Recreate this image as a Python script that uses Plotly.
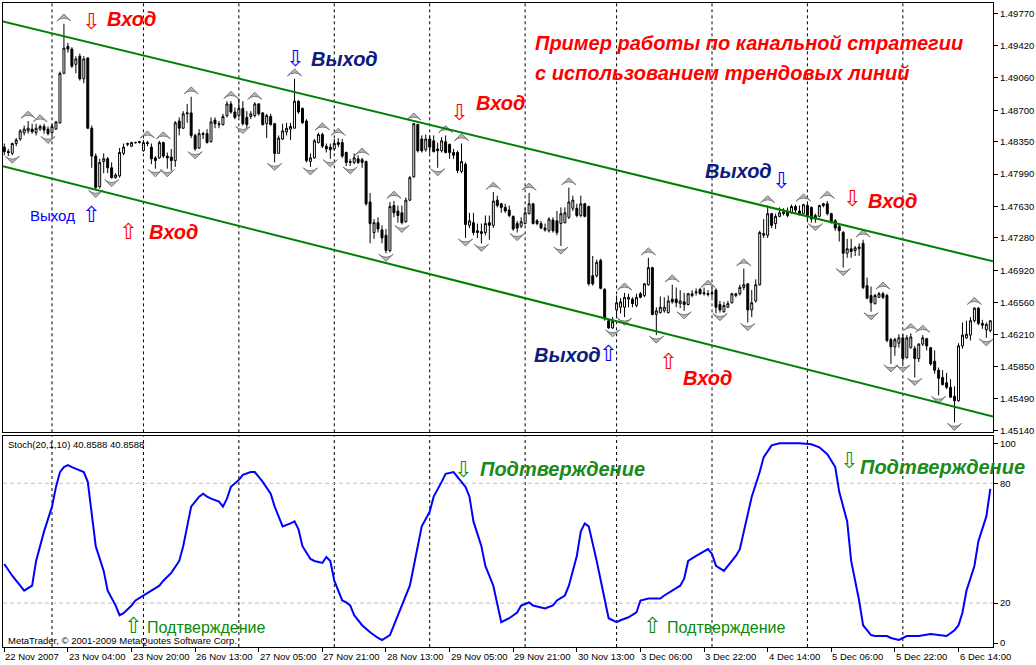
import plotly.graph_objects as go

# ---------------- DATA (EURUSD H1, prices in points = price*10000) ----------------
open_pts = [14829,14824,14822,14833,14838,14845,14847,14849,14845,14849,
14852,14849,14845,14849,14856,14911,14941,14938,14921,14930,
14905,14928,14850,14819,14785,14813,14816,14806,14795,14797,
14822,14832,14830,14834,14834,14825,14834,14829,14817,14817,
14834,14819,14818,14814,14858,14850,14866,14867,14842,14828,
14844,14844,14835,14859,14855,14854,14864,14877,14868,14864,
14872,14862,14863,14864,14877,14867,14855,14863,14855,14822,
14838,14846,14849,14850,14880,14872,14858,14813,14817,14834,
14843,14830,14829,14827,14834,14834,14823,14813,14812,14816,
14815,14813,14768,14734,14745,14737,14731,14714,14764,14758,
14756,14746,14770,14796,14854,14838,14826,14838,14836,14827,
14825,14835,14832,14823,14823,14802,14810,14742,14745,14736,
14735,14734,14745,14742,14770,14766,14762,14759,14752,14744,
14741,14744,14755,14766,14747,14744,14739,14736,14748,14747,
14744,14745,14751,14761,14761,14753,14766,14763,14686,14686,
14703,14671,14636,14628,14648,14651,14651,14660,14660,14653,
14666,14664,14676,14695,14643,14645,14647,14645,14660,14660,
14655,14657,14654,14664,14667,14671,14666,14665,14666,14670,
14654,14646,14651,14656,14664,14666,14673,14677,14648,14658,
14676,14731,14731,14755,14744,14752,14755,14758,14756,14763,
14758,14755,14764,14762,14753,14752,14766,14766,14755,14747,
14741,14734,14711,14716,14714,14716,14722,14675,14664,14655,
14662,14666,14664,14615,14607,14611,14617,14595,14606,14605,
14594,14610,14616,14606,14591,14581,14573,14567,14562,14552,
14547,14608,14617,14620,14636,14650,14633,14626,14625]

high_pts = [14833,14827,14834,14839,14849,14853,14858,14855,14855,14854,
14855,14852,14855,14858,14913,14966,14945,14940,14930,14933,
14930,14929,14853,14822,14816,14822,14818,14812,14800,14828,
14833,14834,14835,14835,14836,14837,14836,14833,14819,14836,
14835,14823,14827,14858,14862,14869,14877,14885,14844,14849,
14846,14849,14862,14862,14858,14866,14880,14880,14873,14883,
14880,14869,14869,14879,14878,14868,14866,14866,14856,14842,
14855,14856,14856,14905,14881,14873,14860,14822,14838,14845,
14845,14833,14833,14838,14839,14838,14824,14816,14822,14820,
14817,14814,14778,14749,14751,14742,14738,14768,14769,14764,
14764,14773,14797,14856,14855,14842,14843,14842,14842,14834,
14840,14842,14833,14827,14825,14833,14812,14756,14756,14744,
14744,14753,14753,14779,14775,14767,14766,14764,14753,14747,
14751,14762,14778,14767,14749,14747,14744,14751,14751,14758,
14762,14762,14784,14775,14766,14775,14767,14764,14708,14704,
14705,14672,14638,14640,14664,14661,14667,14666,14662,14666,
14668,14678,14706,14696,14651,14663,14662,14664,14676,14673,
14670,14667,14667,14670,14672,14672,14673,14670,14673,14672,
14658,14657,14658,14667,14667,14676,14694,14678,14670,14682,
14736,14749,14764,14756,14755,14762,14761,14762,14765,14765,
14764,14766,14766,14763,14755,14765,14767,14769,14756,14749,
14744,14736,14727,14727,14719,14722,14726,14684,14674,14666,
14668,14668,14666,14617,14617,14621,14621,14620,14622,14608,
14611,14620,14617,14607,14603,14584,14581,14578,14571,14563,
14611,14634,14636,14640,14651,14651,14637,14634,14636]

low_pts = [14820,14819,14820,14830,14836,14842,14844,14844,14842,14847,
14844,14842,14842,14848,14855,14910,14934,14917,14911,14903,
14900,14849,14806,14782,14783,14800,14800,14794,14794,14795,
14820,14830,14829,14833,14833,14824,14830,14810,14805,14816,
14817,14805,14803,14807,14842,14849,14856,14839,14825,14827,
14838,14833,14834,14850,14850,14853,14862,14866,14860,14862,
14853,14850,14860,14862,14864,14853,14839,14853,14812,14822,
14837,14842,14837,14850,14866,14855,14812,14807,14816,14833,
14828,14823,14816,14825,14829,14817,14808,14808,14810,14810,
14806,14764,14722,14727,14734,14722,14711,14712,14751,14745,
14743,14745,14769,14795,14823,14823,14824,14822,14823,14806,
14823,14822,14816,14816,14800,14800,14728,14739,14731,14728,
14722,14731,14726,14739,14762,14756,14756,14751,14736,14734,
14739,14743,14754,14743,14742,14738,14735,14734,14734,14731,
14719,14744,14749,14758,14751,14751,14751,14675,14675,14684,
14671,14636,14627,14627,14640,14644,14640,14651,14651,14651,
14661,14662,14675,14642,14620,14644,14645,14644,14655,14651,
14650,14647,14653,14662,14664,14665,14664,14663,14662,14644,
14645,14645,14650,14655,14662,14664,14670,14634,14640,14656,
14675,14728,14728,14739,14738,14751,14753,14751,14755,14756,
14753,14755,14748,14745,14745,14751,14762,14753,14744,14736,
14724,14695,14706,14706,14708,14708,14671,14660,14646,14654,
14662,14660,14612,14588,14597,14606,14588,14594,14605,14573,
14590,14608,14603,14586,14577,14553,14564,14560,14550,14523,
14546,14605,14616,14614,14634,14631,14627,14617,14623]

close_pts = [14824,14823,14833,14837,14847,14849,14850,14846,14850,14852,
14848,14844,14852,14857,14911,14939,14938,14919,14927,14905,
14927,14850,14819,14784,14812,14816,14806,14795,14798,14823,
14829,14833,14834,14834,14835,14834,14833,14816,14814,14834,
14819,14817,14814,14856,14850,14866,14867,14842,14827,14844,
14843,14834,14857,14855,14854,14863,14877,14868,14862,14872,
14855,14854,14866,14877,14866,14854,14864,14854,14822,14839,
14847,14850,14852,14880,14868,14856,14814,14817,14836,14843,
14830,14827,14826,14833,14832,14819,14812,14812,14817,14812,
14812,14766,14744,14745,14738,14728,14714,14763,14756,14753,
14745,14770,14795,14855,14825,14825,14838,14829,14824,14825,
14836,14823,14823,14820,14803,14813,14743,14747,14734,14734,
14733,14744,14742,14769,14764,14762,14758,14753,14738,14739,
14746,14756,14766,14744,14744,14739,14737,14749,14736,14734,
14755,14756,14768,14770,14753,14766,14752,14677,14677,14701,
14672,14638,14628,14635,14656,14657,14662,14662,14655,14662,
14662,14677,14695,14643,14647,14651,14651,14658,14657,14656,
14658,14654,14666,14666,14668,14666,14667,14666,14667,14651,
14648,14653,14655,14666,14666,14673,14676,14648,14656,14676,
14734,14733,14755,14742,14752,14756,14757,14753,14763,14759,
14755,14765,14753,14749,14749,14764,14764,14755,14746,14739,
14736,14711,14716,14713,14717,14718,14673,14661,14656,14664,
14666,14662,14614,14607,14615,14617,14594,14617,14618,14594,
14610,14617,14608,14588,14581,14572,14565,14562,14551,14547,
14608,14620,14621,14636,14650,14633,14631,14632,14636]

# Bill Williams fractals seen on the chart (bar indices)
fractal_up_bars = [6, 9, 15, 36, 40, 47, 57, 63, 73, 80, 84, 90, 98, 103, 111, 115, 123,
                   132, 142, 156, 162, 168, 177, 186, 192, 201, 207, 216, 221, 228, 231, 244]
fractal_down_bars = [2, 11, 23, 27, 38, 41, 48, 60, 68, 77, 82, 87, 96, 100, 109, 116, 120,
                     129, 140, 153, 156, 164, 171, 180, 187, 204, 211, 218, 223, 226, 229,
                     235, 239, 247]

# Stochastic(20,1,10) line read from the lower window
stoch_bars = [0,2,4,5,7,8,10,12,13,14,15,16,17,19,20,21,22,23,25,26,28,29,30,32,33,35,37,39,40,42,
              44,45,46,47,49,50,51,52,54,55,56,57,59,60,62,63,64,65,67,68,69,70,72,73,74,75,77,78,80,81,
              82,83,85,86,87,88,90,92,94,95,97,98,99,100,102,103,104,105,107,108,110,111,113,114,116,117,118,120,121,123,
              124,125,127,129,130,132,133,135,136,138,139,141,142,144,145,146,147,149,151,152,154,155,157,159,160,162,163,165,166,168,
              170,171,172,174,175,177,178,179,181,182,184,185,186,188,190,191,193,195,198,200,203,205,207,209,210,212,213,215,216,218,
              219,222,223,225,227,230,233,236,237,239,240,241,242,244,245,247,248]
stoch_vals = [39.6,33.7,28.7,26.2,28.7,41.1,55.9,68.3,78.2,85.6,88.1,89.1,88.1,86.6,85.6,80.7,65.8,48.5,36.1,26.2,18.8,13.9,14.9,18.8,21.3,23.8,26.2,28.7,31.2,35.1,
              41.1,48.5,58.4,68.3,73.3,74.8,73.3,72.3,70.8,68.3,72.3,78.2,81.7,84.2,85.6,85.6,83.2,80.7,74.8,68.3,63.4,58.4,59.9,60.9,56.9,48.5,42.1,41.1,40.1,43.1,
              41.1,31.2,21.3,20.3,18.8,13.9,8.9,5.4,2.5,1.5,4.0,8.9,13.9,18.8,28.7,38.6,48.5,58.4,65.8,73.3,80.7,84.7,85.6,83.2,78.2,73.3,60.9,48.5,38.6,28.7,
              18.8,10.4,12.4,15.3,18.8,20.3,18.8,17.8,17.3,18.8,21.3,23.8,28.7,43.6,55.9,59.9,58.4,41.1,21.3,12.4,10.4,11.4,12.9,15.3,21.3,22.3,22.3,22.3,23.8,26.2,
              28.7,32.2,41.1,43.6,44.6,47.0,44.6,38.6,36.1,38.6,43.6,47.0,55.9,73.3,85.6,93.1,99.0,100,100,100,99.5,98.0,94.6,88.1,75.7,60.9,41.1,21.3,8.9,4.0,
              3.5,3.5,2.5,1.5,3.5,3.5,4.5,4.0,3.5,6.4,8.9,15.3,26.2,38.6,51.0,63.4,77.2]

# hand-drawn trend channel (bar index, price)
upper_line_bars = [-0.825, 248.675]
upper_line_prices = [1.49692, 1.47020]
lower_line_bars = [-0.825, 248.675]
lower_line_prices = [1.48083, 1.45296]

time_tick_bars = list(range(0, 241, 16))
time_tick_labels = ["22 Nov 2007", "23 Nov 04:00", "23 Nov 20:00", "26 Nov 13:00", "27 Nov 05:00",
                    "27 Nov 21:00", "28 Nov 13:00", "29 Nov 05:00", "29 Nov 21:00", "30 Nov 13:00",
                    "3 Dec 06:00", "3 Dec 22:00", "4 Dec 14:00", "5 Dec 06:00", "5 Dec 22:00", "6 Dec 14:00"]
day_start_bars = [12, 35, 59, 83, 107, 131, 154, 178, 202, 226]

price_ticks = [1.4977, 1.4942, 1.4906, 1.4870, 1.4835, 1.4799, 1.4763, 1.4728,
               1.4692, 1.4656, 1.4621, 1.4585, 1.4549, 1.4514]
stoch_ticks = [0, 20, 80, 100]
stoch_levels = [20, 80]

# ---------------- BUILD ----------------
PT = 10000.0
opens = [v / PT for v in open_pts]
highs = [v / PT for v in high_pts]
lows = [v / PT for v in low_pts]
closes = [v / PT for v in close_pts]
bars = list(range(len(opens)))

SMALL = "Liberation Sans, Arial, sans-serif"
ARROWF = "DejaVu Sans, sans-serif"
UP_OFF = 0.0011
DN_OFF = 0.0009

fig = go.Figure()

fig.add_trace(go.Candlestick(
    x=bars, open=opens, high=highs, low=lows, close=closes,
    increasing=dict(line=dict(color="black", width=1), fillcolor="white"),
    decreasing=dict(line=dict(color="black", width=1), fillcolor="black"),
    whiskerwidth=0, hoverinfo="skip", showlegend=False, xaxis="x", yaxis="y"))

fig.add_trace(go.Scatter(
    x=fractal_up_bars, y=[highs[b] + UP_OFF for b in fractal_up_bars], mode="markers",
    marker=dict(symbol="arrow-wide", size=10, angle=0, color="#b4b4b4",
                line=dict(color="#7a7a7a", width=1)),
    hoverinfo="skip", showlegend=False, xaxis="x", yaxis="y"))
fig.add_trace(go.Scatter(
    x=fractal_down_bars, y=[lows[b] - DN_OFF for b in fractal_down_bars], mode="markers",
    marker=dict(symbol="arrow-wide", size=10, angle=180, color="#b4b4b4",
                line=dict(color="#7a7a7a", width=1)),
    hoverinfo="skip", showlegend=False, xaxis="x", yaxis="y"))

for xs, ys in ((upper_line_bars, upper_line_prices), (lower_line_bars, lower_line_prices)):
    fig.add_trace(go.Scatter(x=xs, y=ys, mode="lines", line=dict(color="#008000", width=2),
                             hoverinfo="skip", showlegend=False, xaxis="x", yaxis="y"))

fig.add_trace(go.Scatter(x=stoch_bars, y=stoch_vals, mode="lines",
                         line=dict(color="#0000ff", width=2),
                         hoverinfo="skip", showlegend=False, xaxis="x2", yaxis="y2"))

shapes = []
for d in day_start_bars:
    shapes.append(dict(type="line", xref="x", yref="y domain", x0=d, x1=d, y0=0, y1=1,
                       line=dict(color="black", width=1, dash="3px,3px"), layer="below"))
    shapes.append(dict(type="line", xref="x2", yref="y2 domain", x0=d, x1=d, y0=0, y1=1,
                       line=dict(color="black", width=1, dash="3px,3px"), layer="below"))
for lv in stoch_levels:
    shapes.append(dict(type="line", xref="x2 domain", yref="y2", x0=0, x1=1, y0=lv, y1=lv,
                       line=dict(color="#c0c0c0", width=1, dash="4px,3px"), layer="below"))

RED = "#ff0000"
NAVY = "#0c1c7c"
BLUE = "#0000ff"
GREEN_B = "#1a8a1a"
GREEN = "#0a8a0a"
ASZ = 22

ann = []
def note(text, x, y, color, size, xref="x", yref="y", xanchor="left", family=SMALL):
    ann.append(dict(text=text, x=x, y=y, xref=xref, yref=yref, xanchor=xanchor,
                    yanchor="middle", showarrow=False,
                    font=dict(family=family, size=size, color=color)))

def bi(t):
    return "<b><i>" + t + "</i></b>"

# main window notes
note("⇩", 21.7, 1.4969, RED, ASZ, xanchor="center", family=ARROWF)
note(bi("Вход"), 25.4, 1.4971, RED, 20)
note("Выход", 5.9, 1.4753, BLUE, 15)
note("⇧", 21.9, 1.4754, BLUE, ASZ, xanchor="center", family=ARROWF)
note("⇧", 31.2, 1.4735, RED, ASZ, xanchor="center", family=ARROWF)
note(bi("Вход"), 35.9, 1.4735, RED, 20)
note("⇩", 73.2, 1.4927, BLUE, ASZ, xanchor="center", family=ARROWF)
note(bi("Выход"), 76.7, 1.4927, NAVY, 20)
note("⇩", 114.4, 1.4867, RED, ASZ, xanchor="center", family=ARROWF)
note(bi("Вход"), 118.2, 1.4878, RED, 20)
note(bi("Пример работы по канальной стратегии"), 132.9, 1.4945, RED, 20)
note(bi("с использованием трендовых линий"), 132.9, 1.4911, RED, 20)
note(bi("Выход"), 175.7, 1.4803, NAVY, 20)
note("⇩", 195.4, 1.4792, BLUE, ASZ, xanchor="center", family=ARROWF)
note("⇩", 213.2, 1.4772, RED, ASZ, xanchor="center", family=ARROWF)
note(bi("Вход"), 216.7, 1.4769, RED, 20)
note(bi("Выход"), 132.7, 1.4598, NAVY, 20)
note("⇧", 151.9, 1.4600, BLUE, ASZ, xanchor="center", family=ARROWF)
note("⇧", 166.9, 1.4591, RED, ASZ, xanchor="center", family=ARROWF)
note(bi("Вход"), 170.2, 1.4572, RED, 20)

# stochastic window notes
note("⇩", 115.4, 87.1, GREEN_B, ASZ, "x2", "y2", "center", ARROWF)
note(bi("Подтверждение"), 119.2, 87.1, GREEN_B, 20, "x2", "y2")
note("⇩", 212.4, 91.6, GREEN_B, ASZ, "x2", "y2", "center", ARROWF)
note(bi("Подтверждение"), 214.7, 88.1, GREEN_B, 20, "x2", "y2")
note("⇧", 32.4, 8.6, GREEN, ASZ, "x2", "y2", "center", ARROWF)
note("Подтверждение", 35.4, 7.8, GREEN, 16, "x2", "y2")
note("⇧", 162.9, 8.6, GREEN, ASZ, "x2", "y2", "center", ARROWF)
note("Подтверждение", 166.2, 7.8, GREEN, 16, "x2", "y2")

ann.append(dict(text="Stoch(20,1,10) 40.8588 40.8588", xref="x2 domain", yref="y2 domain",
                x=0, y=1, xanchor="left", yanchor="top", xshift=3, yshift=-1, showarrow=False,
                font=dict(family=SMALL, size=9.5, color="black")))
ann.append(dict(text="MetaTrader, © 2001-2009 MetaQuotes Software Corp.", xref="x2 domain",
                yref="y2 domain", x=0, y=0, xanchor="left", yanchor="bottom", xshift=3, yshift=-1,
                showarrow=False, font=dict(family=SMALL, size=9.5, color="black")))

for b, lab in zip(time_tick_bars, time_tick_labels):
    ann.append(dict(text=lab, xref="x2", yref="paper", x=b, y=0, xanchor="left", yanchor="top",
                    xshift=-1, yshift=-2, showarrow=False,
                    font=dict(family=SMALL, size=9.5, color="black")))

XR = [-0.325, 248.675]
axis_common = dict(showline=True, mirror=True, linecolor="black", linewidth=1,
                   showgrid=False, zeroline=False)

fig.update_layout(
    width=1036, height=665,
    margin=dict(l=2, r=38, t=2, b=18),
    paper_bgcolor="white", plot_bgcolor="white",
    showlegend=False, dragmode=False,
    xaxis=dict(domain=[0, 1], anchor="y", range=XR, showticklabels=False, ticks="",
               rangeslider=dict(visible=False), **axis_common),
    xaxis2=dict(domain=[0, 1], anchor="y2", range=XR, matches="x", showticklabels=False,
                tickmode="array", tickvals=time_tick_bars, ticks="outside", ticklen=4,
                tickcolor="black", **axis_common),
    yaxis=dict(domain=[0.3333, 1], anchor="x", side="right", range=[1.45119, 1.49892],
               tickmode="array", tickvals=price_ticks,
               ticktext=["%.5f" % v for v in price_ticks], ticks="outside", ticklen=4,
               tickcolor="black", tickfont=dict(family=SMALL, size=9.5, color="black"),
               **axis_common),
    yaxis2=dict(domain=[0, 0.3271], anchor="x2", side="right", range=[-2, 103.5],
                tickmode="array", tickvals=stoch_ticks, ticktext=[str(v) for v in stoch_ticks],
                ticks="outside", ticklen=4, tickcolor="black",
                tickfont=dict(family=SMALL, size=9.5, color="black"), **axis_common),
    shapes=shapes, annotations=ann,
)

fig.write_html("out.html", config={"displayModeBar": False},
               post_script="document.body.style.margin='0';document.body.style.padding='0';")
